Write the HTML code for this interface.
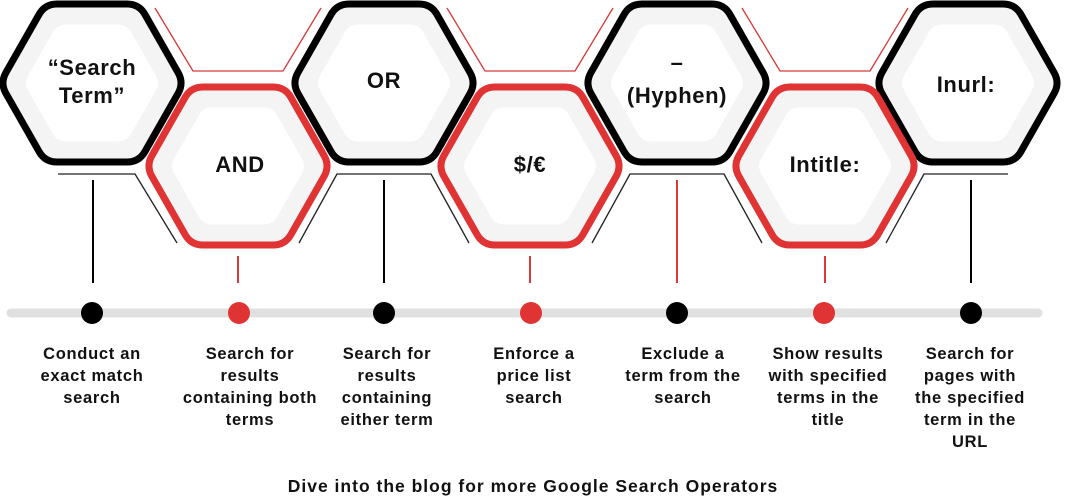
<!DOCTYPE html>
<html><head><meta charset="utf-8"><style>
html,body{margin:0;padding:0;background:#fff;}
svg{display:block;}
text{font-family:"Liberation Sans",sans-serif;font-weight:bold;fill:#111;}
</style></head><body>
<svg width="1065" height="502" viewBox="0 0 1065 502" xmlns="http://www.w3.org/2000/svg">
<defs>
<path id="hx" d="M-86.1,-10.4 L-52.9,-68.6 Q-47,-79 -35,-79 L35,-79 Q47,-79 52.9,-68.6 L86.1,-10.4 Q92,0 86.1,10.4 L52.9,68.6 Q47,79 35,79 L-35,79 Q-47,79 -52.9,68.6 L-86.1,10.4 Q-92,0 -86.1,-10.4 Z"/>
</defs>
<g fill="none" stroke="#d63a3a" stroke-width="1.3" stroke-linejoin="round">
<path d="M155,8 L193,71 L283,71 L321,8"/>
<path d="M447,8 L485,71 L575,71 L613,8"/>
<path d="M742,8 L780,71 L870,71 L908,8"/>
</g>
<g fill="none" stroke="#222" stroke-width="1.3" stroke-linejoin="round">
<path d="M58,174 L135,174 L177,243"/>
<path d="M299,243 L337,174 L431,174 L469,243"/>
<path d="M592,243 L630,174 L724,174 L762,243"/>
<path d="M886,243 L924,174 L1008,174"/>
</g>
<g>
<g transform="translate(92,83)"><use href="#hx" fill="#f4f4f4" stroke="#000" stroke-width="7"/><use href="#hx" fill="#fff" transform="scale(0.74)"/></g>
<g transform="translate(384,83)"><use href="#hx" fill="#f4f4f4" stroke="#000" stroke-width="7"/><use href="#hx" fill="#fff" transform="scale(0.74)"/></g>
<g transform="translate(677,83)"><use href="#hx" fill="#f4f4f4" stroke="#000" stroke-width="7"/><use href="#hx" fill="#fff" transform="scale(0.74)"/></g>
<g transform="translate(968,83)"><use href="#hx" fill="#f4f4f4" stroke="#000" stroke-width="7"/><use href="#hx" fill="#fff" transform="scale(0.74)"/></g>
<g transform="translate(238,166)"><use href="#hx" fill="#f4f4f4" stroke="#e03333" stroke-width="7"/><use href="#hx" fill="#fff" transform="scale(0.74)"/></g>
<g transform="translate(530,166)"><use href="#hx" fill="#f4f4f4" stroke="#e03333" stroke-width="7"/><use href="#hx" fill="#fff" transform="scale(0.74)"/></g>
<g transform="translate(825,166)"><use href="#hx" fill="#f4f4f4" stroke="#e03333" stroke-width="7"/><use href="#hx" fill="#fff" transform="scale(0.74)"/></g>
</g>
<g font-size="22" text-anchor="middle" letter-spacing="0.6">
<text x="92" y="75">“Search</text><text x="92" y="103">Term”</text>
<text x="240" y="172">AND</text>
<text x="384" y="88">OR</text>
<text x="530" y="172">$/€</text>
<text x="677" y="70">–</text><text x="677" y="103">(Hyphen)</text>
<text x="825" y="172">Intitle:</text>
<text x="966" y="92">Inurl:</text>
</g>
<g stroke-width="2">
<line x1="93" y1="180" x2="93" y2="283" stroke="#000"/>
<line x1="238" y1="256" x2="238" y2="283" stroke="#d63a3a"/>
<line x1="384" y1="180" x2="384" y2="283" stroke="#000"/>
<line x1="530" y1="256" x2="530" y2="283" stroke="#d63a3a"/>
<line x1="677" y1="180" x2="677" y2="283" stroke="#d63a3a"/>
<line x1="825" y1="256" x2="825" y2="283" stroke="#d63a3a"/>
<line x1="971" y1="180" x2="971" y2="283" stroke="#000"/>
</g>
<line x1="11" y1="313" x2="1038" y2="313" stroke="#e0e0e0" stroke-width="9" stroke-linecap="round"/>
<circle cx="92" cy="313" r="11" fill="#000"/>
<circle cx="239" cy="313" r="11" fill="#e03333"/>
<circle cx="384" cy="313" r="11" fill="#000"/>
<circle cx="531" cy="313" r="11" fill="#e03333"/>
<circle cx="677" cy="313" r="11" fill="#000"/>
<circle cx="824" cy="313" r="11" fill="#e03333"/>
<circle cx="971" cy="313" r="11" fill="#000"/>
<g font-size="16.5" text-anchor="middle" letter-spacing="0.7">
<text x="92" y="359">Conduct an</text><text x="92" y="381">exact match</text><text x="92" y="403">search</text>
<text x="250" y="359">Search for</text><text x="250" y="381">results</text><text x="250" y="403">containing both</text><text x="250" y="425">terms</text>
<text x="387" y="359">Search for</text><text x="387" y="381">results</text><text x="387" y="403">containing</text><text x="387" y="425">either term</text>
<text x="534" y="359">Enforce a</text><text x="534" y="381">price list</text><text x="534" y="403">search</text>
<text x="683" y="359">Exclude a</text><text x="683" y="381">term from the</text><text x="683" y="403">search</text>
<text x="828" y="359">Show results</text><text x="828" y="381">with specified</text><text x="828" y="403">terms in the</text><text x="828" y="425">title</text>
<text x="970" y="359">Search for</text><text x="970" y="381">pages with</text><text x="970" y="403">the specified</text><text x="970" y="425">term in the</text><text x="970" y="447">URL</text>
</g>
<text x="533" y="492" font-size="17.5" text-anchor="middle" letter-spacing="1">Dive into the blog for more Google Search Operators</text>
</svg>
</body></html>
